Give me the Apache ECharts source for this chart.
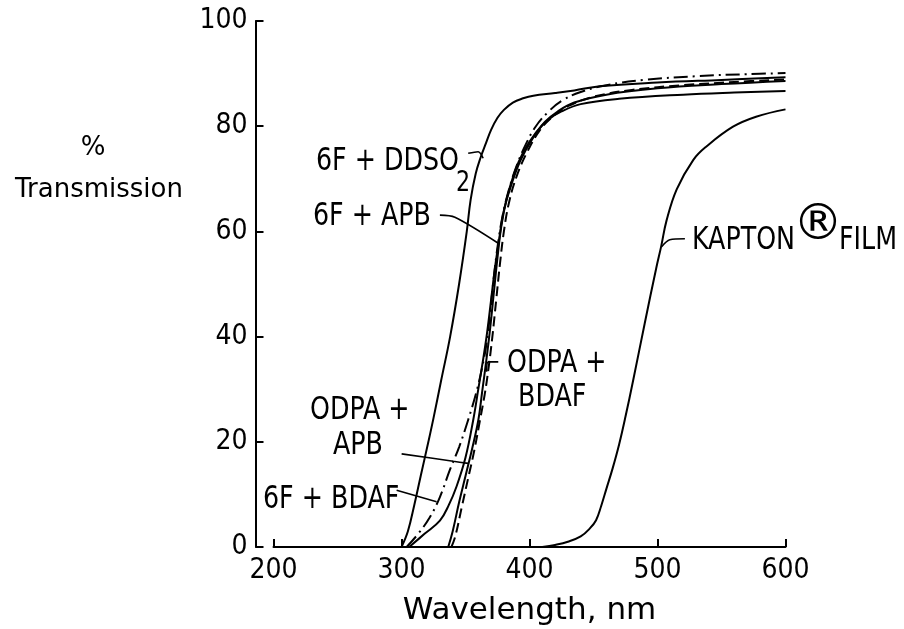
<!DOCTYPE html>
<html>
<head>
<meta charset="utf-8">
<script src="https://cdn.jsdelivr.net/npm/echarts@6/dist/echarts.min.js"></script>
<style>
html,body{margin:0;padding:0;background:#fff;}
#c{width:904px;height:629px;}
</style>
</head>
<body>
<div id="c"></div>
<script>
// ---- data (wavelength nm, % transmission) ----
const xTicks = [200, 300, 400, 500, 600];
const yTicks = [0, 20, 40, 60, 80, 100];

const wlDDSO2 = [300,305,310,315,321,325,331,338,345,351,354,358,362,366,370,375,380,387,395,403,420,435,455,500,550,600];
const tDDSO2  = [0,3,8,13.5,20,24.5,31.7,40,50,60,66,71,74.2,76.8,79.3,81.6,83.1,84.5,85.3,85.8,86.3,86.8,87.6,88.3,88.8,89.3];

const wl6FBDAF = [304,313,322,330,338,345,352,358,362,366,369,372,375,379,384,390,397,405,415,425,440,460,490,530,570,600];
const t6FBDAF  = [0,2.5,5.6,9.5,14.8,19,24.1,29,33,38,44,51,57,63,68,72.5,76.5,80,82.8,84.8,86.5,87.8,88.8,89.5,89.9,90.1];

const wl6FAPB = [306,318,330,337,343,350,356,360,364,367,370,373,376,380,386,393,402,412,422,435,460,500,550,600];
const t6FAPB  = [0,2.5,5,8,11.5,17,24.1,30,36,41,47,53,58,64,69,73.5,77.5,80.8,82.8,84.5,86,87.2,88,88.6];

const wlODPAAPB = [336.5,340,345,350,355,360,363,366,369,372,375,378,382,388,395,405,415,425,440,470,520,560,600];
const tODPAAPB  = [0,3,8.5,13.5,18.5,24.1,29.5,35,41,48,55,61,66,71,75,78.8,81.3,82.8,84.2,85.2,86,86.4,86.7];

const wlODPABDAF = [339,342,347,352,357,361.3,365,368,371,374,377,380,384,390,398,408,418,430,450,480,520,560,600];
const tODPABDAF  = [0,2,7.5,13,18.5,24.1,29,34,40,47,54,60,65.5,70.5,75,79.2,81.8,83.8,85.6,86.9,87.8,88.4,88.9];

const wlKapton = [410,420,430,440,447,452,456,460,465,470,475,481,490,499,503,507,515,528,538,559,577,600];
const tKapton  = [0,0.4,1,2,3.5,5.1,7.8,11,15,19.5,24.8,31.7,42.5,53,57.3,62,68,73.6,76.1,79.9,81.8,83.2];

// leader lines from labels to curves (data units)
const leadDDSO2X = [352.1,359.9,363.8];      const leadDDSO2Y = [74.85,75.15,73.9];
const lead6FAPBX = [330.0,341.7,375.3];      const lead6FAPBY = [63.1,62.7,57.8];
const leadODBDX  = [375.6,367.8,366.5];      const leadODBDY  = [35.2,35.2,33.3];
const leadODAPBX = [300.1,340.4,352.1];      const leadODAPBY = [17.7,16.3,15.9];
const lead6FBDX  = [296.2,327.4];            const lead6FBDY  = [10.8,8.6];
const leadKapX   = [503.2,509.6,521.4];      const leadKapY   = [57.1,58.4,58.6];

function zip(xs, ys){ return xs.map((x,i)=>[x, ys[i]]); }

const NARROW = "'Liberation Sans Narrow','DejaVu Sans Condensed','Liberation Sans',sans-serif";
const WIDE = "'DejaVu Sans','Liberation Sans',sans-serif";

function curve(name, xs, ys, type){
  return {
    name: name, type: 'line', data: zip(xs, ys), showSymbol: false, symbol: 'none',
    smooth: 0.4, silent: true, animation: false,
    lineStyle: {color: '#000', width: 2, type: type}
  };
}
function leader(xs, ys){
  return {
    type: 'line', data: zip(xs, ys), showSymbol: false, symbol: 'none', silent: true,
    animation: false, smooth: 0.3, lineStyle: {color: '#000', width: 1.6}
  };
}

const chart = echarts.init(document.getElementById('c'), null, {renderer: 'canvas'});

function txtAt(text, x, y, size, family, align, sx){
  return {type: 'text', x: x, y: y, scaleX: sx || 1, silent: true,
    style: {text: text, fill: '#000', font: size + 'px ' + family,
      textAlign: align || 'left', textVerticalAlign: 'middle'}};
}

const SX = 0.88;
chart.setOption({
  backgroundColor: '#fff',
  animation: false,
  grid: {left: 273.5, top: 21, width: 512, height: 526, containLabel: false, outerBoundsMode: 'none'},
  xAxis: {
    type: 'value', min: 200, max: 600, interval: 100,
    name: 'Wavelength, nm', nameLocation: 'middle', nameGap: 48,
    nameTextStyle: {color: '#000', fontSize: 31, fontFamily: WIDE, verticalAlign: 'top'},
    axisLine: {show: true, onZero: false, lineStyle: {color: '#000', width: 2}},
    axisTick: {show: true, inside: true, length: 8, lineStyle: {color: '#000', width: 2}},
    axisLabel: {color: '#000', fontSize: 28, fontFamily: NARROW, margin: 10},
    splitLine: {show: false}
  },
  yAxis: {
    type: 'value', min: 0, max: 100, interval: 20, offset: 18,
    axisLine: {show: true, onZero: false, lineStyle: {color: '#000', width: 2}},
    axisTick: {show: true, inside: true, length: 8, lineStyle: {color: '#000', width: 2}},
    axisLabel: {color: '#000', fontSize: 28, fontFamily: NARROW, margin: 8},
    splitLine: {show: false}
  },
  series: [
    curve('6F + DDSO2', wlDDSO2, tDDSO2, 'solid'),
    curve('6F + BDAF', wl6FBDAF, t6FBDAF, [14, 5, 2, 5]),
    curve('6F + APB', wl6FAPB, t6FAPB, 'solid'),
    curve('ODPA + APB', wlODPAAPB, tODPAAPB, 'solid'),
    curve('ODPA + BDAF', wlODPABDAF, tODPABDAF, [10, 5]),
    curve('KAPTON FILM', wlKapton, tKapton, 'solid'),
    leader(leadDDSO2X, leadDDSO2Y),
    leader(lead6FAPBX, lead6FAPBY),
    leader(leadODBDX, leadODBDY),
    leader(leadODAPBX, leadODAPBY),
    leader(lead6FBDX, lead6FBDY),
    leader(leadKapX, leadKapY)
  ],
  graphic: [
    txtAt('%', 93, 148, 26, WIDE, 'center'),
    txtAt('Transmission', 99, 190, 26, WIDE, 'center'),
    txtAt('6F + DDSO', 316, 162, 32, NARROW, 'left', SX),
    txtAt('2', 456, 184, 28, NARROW, 'left', SX),
    txtAt('6F + APB', 313, 217, 32, NARROW, 'left', SX),
    txtAt('ODPA +', 507, 364, 32, NARROW, 'left', SX),
    txtAt('BDAF', 518, 398, 32, NARROW, 'left', SX),
    txtAt('ODPA +', 310, 411, 32, NARROW, 'left', SX),
    txtAt('APB', 333, 446, 32, NARROW, 'left', SX),
    txtAt('6F + BDAF', 263, 500, 32, NARROW, 'left', SX),
    txtAt('KAPTON', 692, 241, 32, NARROW, 'left', SX),
    txtAt('\u00AE', 818, 226, 50, WIDE, 'center'),
    txtAt('FILM', 839, 241, 32, NARROW, 'left', SX)
  ]
});
</script>
</body>
</html>
